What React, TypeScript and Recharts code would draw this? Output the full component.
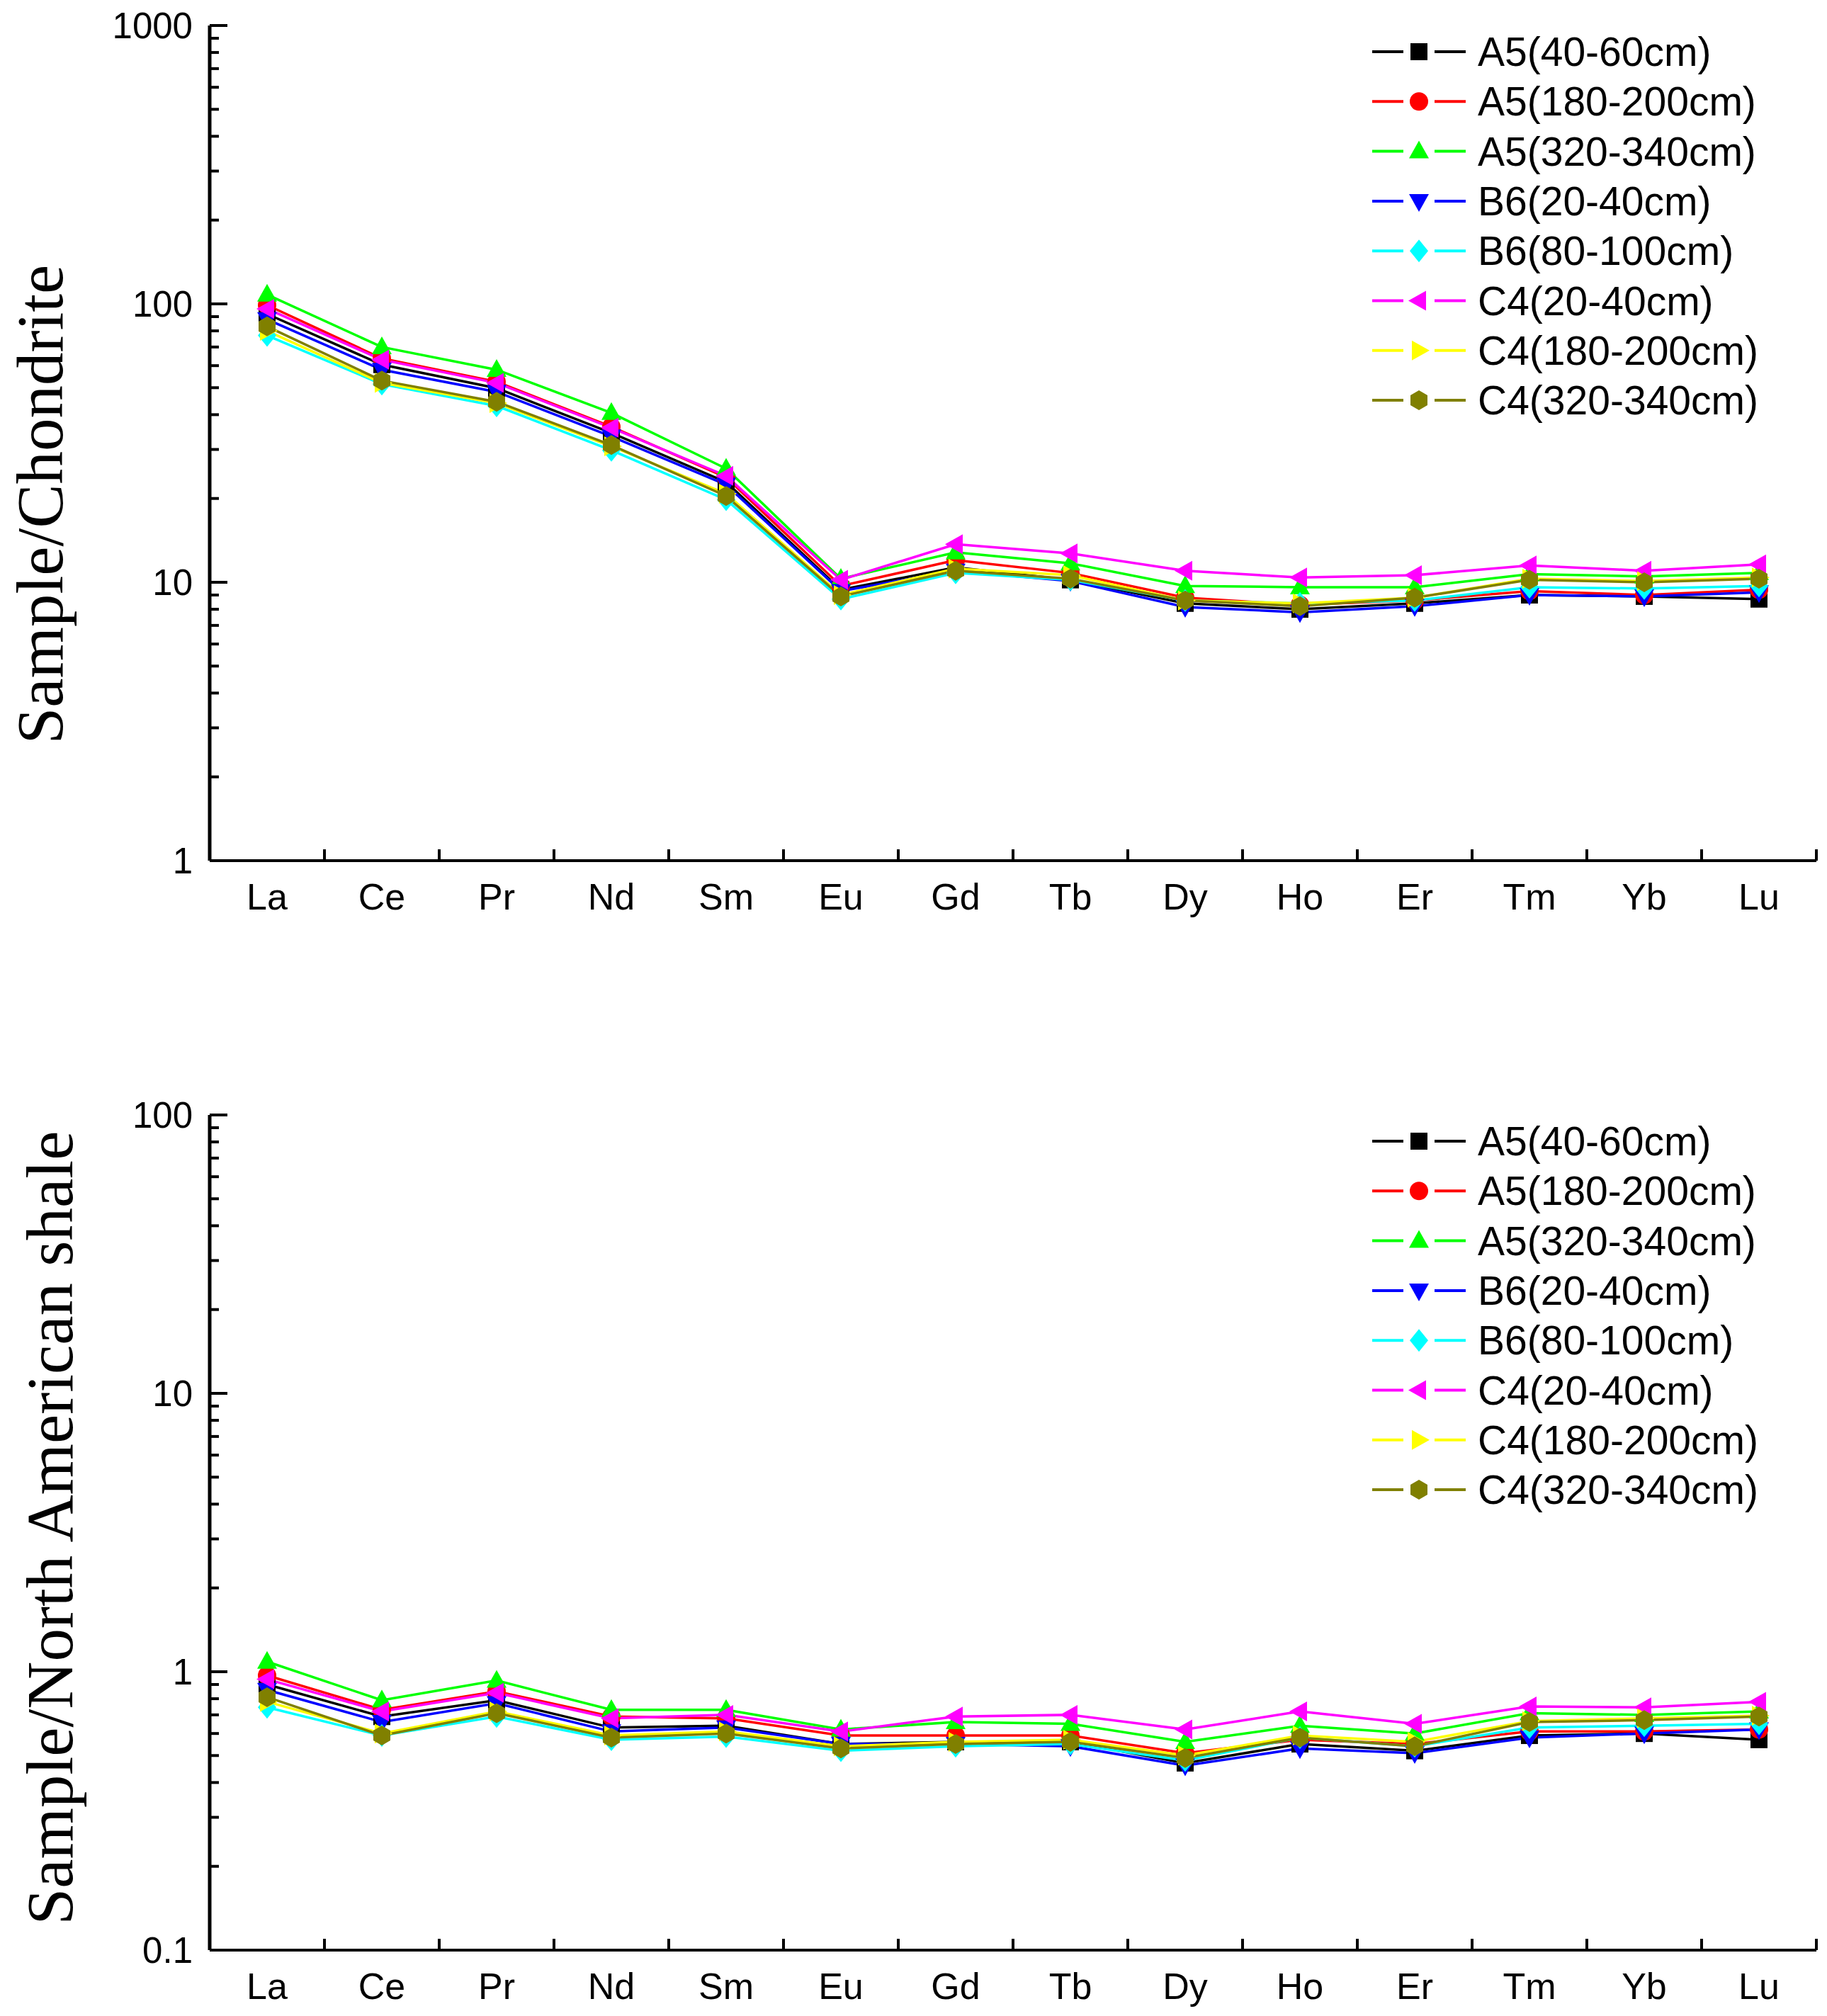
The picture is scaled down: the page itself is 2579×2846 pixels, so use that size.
import { LineChart, Line, XAxis, YAxis } from "recharts"

const ELEMENTS = ["La", "Ce", "Pr", "Nd", "Sm", "Eu", "Gd", "Tb", "Dy", "Ho", "Er", "Tm", "Yb", "Lu"]

const SAMPLES = [
  "A5(40-60cm)",
  "A5(180-200cm)",
  "A5(320-340cm)",
  "B6(20-40cm)",
  "B6(80-100cm)",
  "C4(20-40cm)",
  "C4(180-200cm)",
  "C4(320-340cm)",
]
const COLORS = ["#000000", "#ff0000", "#00ff00", "#0000ff", "#00ffff", "#ff00ff", "#ffff00", "#808000"]
const SHAPES = ["square", "circle", "up", "down", "diamond", "left", "right", "hexagon"]

// chondrite-normalised
const CH_A5_40_60 = [92, 60.5, 49.8, 34.4, 22.9, 9.4, 11.3, 10.2, 8.4, 8.0, 8.4, 9.0, 8.9, 8.7]
const CH_A5_180_200 = [99, 63.7, 52.5, 36.2, 23.8, 9.7, 12.0, 10.8, 8.8, 8.3, 8.6, 9.3, 9.0, 9.4]
const CH_A5_320_340 = [108, 70, 58, 40.6, 25.6, 10.3, 12.8, 11.7, 9.7, 9.6, 9.6, 10.7, 10.5, 10.8]
const CH_B6_20_40 = [88, 58, 48.3, 33.4, 22.4, 9.3, 11.0, 10.1, 8.15, 7.8, 8.2, 9.0, 8.9, 9.2]
const CH_B6_80_100 = [77, 51.5, 43, 29.8, 19.8, 8.7, 10.8, 10.2, 8.6, 8.4, 8.6, 9.6, 9.5, 9.7]
const CH_C4_20_40 = [96, 63, 52, 35.9, 24.1, 10.2, 13.7, 12.7, 11.0, 10.4, 10.6, 11.5, 11.0, 11.6]
const CH_C4_180_200 = [80, 52, 44, 30.8, 20.8, 9.0, 11.2, 10.6, 8.6, 8.4, 8.8, 10.3, 10.1, 10.4]
const CH_C4_320_340 = [83, 53, 44.5, 31.1, 20.4, 8.9, 11.0, 10.3, 8.6, 8.2, 8.8, 10.2, 10.0, 10.3]

// north american shale-normalised
const SH_A5_40_60 = [0.9, 0.69, 0.79, 0.63, 0.64, 0.55, 0.56, 0.56, 0.47, 0.55, 0.52, 0.59, 0.6, 0.57]
const SH_A5_180_200 = [0.97, 0.73, 0.85, 0.69, 0.68, 0.59, 0.59, 0.59, 0.51, 0.57, 0.55, 0.61, 0.61, 0.62]
const SH_A5_320_340 = [1.087, 0.79, 0.93, 0.73, 0.73, 0.62, 0.66, 0.65, 0.56, 0.64, 0.6, 0.71, 0.7, 0.72]
const SH_B6_20_40 = [0.86, 0.66, 0.77, 0.61, 0.63, 0.55, 0.55, 0.54, 0.46, 0.53, 0.51, 0.58, 0.6, 0.62]
const SH_B6_80_100 = [0.745, 0.59, 0.69, 0.57, 0.585, 0.52, 0.54, 0.55, 0.48, 0.58, 0.54, 0.63, 0.64, 0.65]
const SH_C4_20_40 = [0.94, 0.72, 0.84, 0.68, 0.7, 0.61, 0.69, 0.7, 0.62, 0.72, 0.65, 0.75, 0.745, 0.78]
const SH_C4_180_200 = [0.78, 0.6, 0.72, 0.59, 0.61, 0.54, 0.56, 0.57, 0.5, 0.59, 0.56, 0.665, 0.68, 0.695]
const SH_C4_320_340 = [0.81, 0.59, 0.71, 0.58, 0.6, 0.53, 0.55, 0.56, 0.49, 0.58, 0.54, 0.66, 0.67, 0.69]

const CHONDRITE = [CH_A5_40_60, CH_A5_180_200, CH_A5_320_340, CH_B6_20_40, CH_B6_80_100, CH_C4_20_40, CH_C4_180_200, CH_C4_320_340]
const SHALE = [SH_A5_40_60, SH_A5_180_200, SH_A5_320_340, SH_B6_20_40, SH_B6_80_100, SH_C4_20_40, SH_C4_180_200, SH_C4_320_340]

const CH_TICKS = [1, 2, 3, 4, 5, 6, 7, 8, 9, 10, 20, 30, 40, 50, 60, 70, 80, 90, 100, 200, 300, 400, 500, 600, 700, 800, 900, 1000]
const CH_MAJOR = [1, 10, 100, 1000]
const SH_TICKS = [0.1, 0.2, 0.3, 0.4, 0.5, 0.6, 0.7, 0.8, 0.9, 1, 2, 3, 4, 5, 6, 7, 8, 9, 10, 20, 30, 40, 50, 60, 70, 80, 90, 100]
const SH_MAJOR = [0.1, 1, 10, 100]

const W = 2579
const H = 2846
const PLOT_LEFT = 296
const PLOT_RIGHT = 2564
const BAND = (PLOT_RIGHT - PLOT_LEFT) / ELEMENTS.length
const TICK_GAP = 24
const SANS = "'Liberation Sans', Arial, sans-serif"
const SERIF = "'Liberation Serif', 'Times New Roman', serif"

function buildRows(series: number[][]) {
  return ELEMENTS.map((el, i) => {
    const row: Record<string, any> = { el }
    series.forEach((s, k) => (row["s" + k] = s[i]))
    return row
  })
}

function Marker({ shape, x, y, color }: any) {
  if (x == null || y == null) return null
  switch (shape) {
    case "square":
      return <rect x={x - 12} y={y - 12} width={24} height={24} fill={color} />
    case "circle":
      return <circle cx={x} cy={y} r={13} fill={color} />
    case "up":
      return <polygon points={`${x},${y - 15} ${x + 14},${y + 10} ${x - 14},${y + 10}`} fill={color} />
    case "down":
      return <polygon points={`${x},${y + 15} ${x + 14},${y - 10} ${x - 14},${y - 10}`} fill={color} />
    case "diamond":
      return <polygon points={`${x},${y - 16} ${x + 13},${y} ${x},${y + 16} ${x - 13},${y}`} fill={color} />
    case "left":
      return <polygon points={`${x - 15},${y} ${x + 10},${y - 14} ${x + 10},${y + 14}`} fill={color} />
    case "right":
      return <polygon points={`${x + 15},${y} ${x - 10},${y - 14} ${x - 10},${y + 14}`} fill={color} />
    default:
      return (
        <polygon
          points={`${x},${y - 14} ${x + 12},${y - 7} ${x + 12},${y + 7} ${x},${y + 14} ${x - 12},${y + 7} ${x - 12},${y - 7}`}
          fill={color}
        />
      )
  }
}

function YTick({ x, y, payload, majors }: any) {
  const ax = x + TICK_GAP
  const major = majors.includes(payload.value)
  return (
    <g>
      <line x1={ax} x2={ax + (major ? 25 : 13)} y1={y} y2={y} stroke="#000" strokeWidth={4} />
      {major && (
        <text x={x} y={y} textAnchor="end" dominantBaseline="central" fontSize={51} fontFamily={SANS} fill="#000">
          {payload.value}
        </text>
      )}
    </g>
  )
}

function XTick({ x, y, payload }: any) {
  return (
    <g>
      <line x1={x + BAND / 2} x2={x + BAND / 2} y1={y} y2={y - 16} stroke="#000" strokeWidth={4} />
      <text x={x} y={y + 51} textAnchor="middle" dominantBaseline="central" fontSize={52} fontFamily={SANS} fill="#000">
        {payload.value}
      </text>
    </g>
  )
}

function Overlay({ top, height, title, titleX, titleY, legendY }: any) {
  return (
    <svg width={W} height={height} style={{ position: "absolute", left: 0, top, pointerEvents: "none" }}>
      <text
        transform={`translate(${titleX},${titleY}) rotate(-90)`}
        textAnchor="middle"
        dominantBaseline="central"
        fontSize={93}
        fontFamily={SERIF}
        fill="#000"
      >
        {title}
      </text>
      {SAMPLES.map((name, i) => {
        const y = legendY + i * 70.3
        return (
          <g key={name}>
            <line x1={1937} x2={1981} y1={y} y2={y} stroke={COLORS[i]} strokeWidth={4} />
            <line x1={2025} x2={2069} y1={y} y2={y} stroke={COLORS[i]} strokeWidth={4} />
            <Marker shape={SHAPES[i]} x={2003} y={y} color={COLORS[i]} />
            <text x={2086} y={y} dominantBaseline="central" fontSize={57} fontFamily={SANS} fill="#000">
              {name}
            </text>
          </g>
        )
      })}
    </svg>
  )
}

function ReeChart({ top, height, marginTop, marginBottom, series, domain, ticks, majors }: any) {
  const rows = buildRows(series)
  return (
    <div style={{ position: "absolute", left: 0, top, width: W, height }}>
      <LineChart width={W} height={height} data={rows} margin={{ top: marginTop, right: W - PLOT_RIGHT, left: 0, bottom: marginBottom }}>
        <XAxis
          dataKey="el"
          scale="point"
          padding={{ left: BAND / 2, right: BAND / 2 }}
          interval={0}
          height={80}
          tickLine={false}
          tickSize={0}
          tickMargin={0}
          axisLine={{ stroke: "#000", strokeWidth: 4 }}
          tick={<XTick />}
        />
        <YAxis
          type="number"
          scale="log"
          domain={domain}
          allowDataOverflow
          ticks={ticks}
          interval={0}
          width={PLOT_LEFT}
          tickLine={false}
          tickSize={0}
          tickMargin={TICK_GAP}
          axisLine={{ stroke: "#000", strokeWidth: 5 }}
          tick={<YTick majors={majors} />}
        />
        {SAMPLES.map((name, k) => (
          <Line
            key={name}
            dataKey={"s" + k}
            name={name}
            stroke={COLORS[k]}
            strokeWidth={3.5}
            isAnimationActive={false}
            dot={(p: any) => <Marker key={`${k}-${p.index}`} shape={SHAPES[k]} x={p.cx} y={p.cy} color={COLORS[k]} />}
            activeDot={false}
          />
        ))}
      </LineChart>
    </div>
  )
}

export default function App() {
  return (
    <div style={{ position: "absolute", left: 0, top: 0, width: W, height: H, background: "#fff", overflow: "hidden" }}>
      <ReeChart top={0} height={1330} marginTop={36} marginBottom={35} series={CHONDRITE} domain={[1, 1000]} ticks={CH_TICKS} majors={CH_MAJOR} />
      <Overlay top={0} height={1330} title="Sample/Chondrite" titleX={56} titleY={712} legendY={73} />
      <ReeChart top={1330} height={1516} marginTop={244} marginBottom={13} series={SHALE} domain={[0.1, 100]} ticks={SH_TICKS} majors={SH_MAJOR} />
      <Overlay top={1330} height={1516} title="Sample/North American shale" titleX={70} titleY={827} legendY={281} />
    </div>
  )
}
